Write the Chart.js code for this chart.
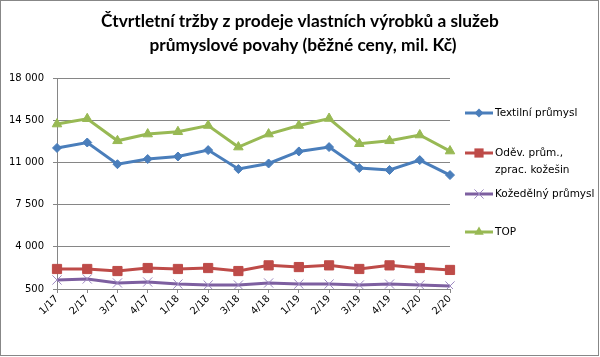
<!DOCTYPE html>
<html><head><meta charset="utf-8">
<script src="https://cdn.jsdelivr.net/npm/chart.js@4/dist/chart.umd.min.js"></script>
<style>
html,body{margin:0;padding:0;background:#fff;}
#wrap{position:relative;width:600px;height:357px;}
#frame{position:absolute;left:0;top:0;width:597px;height:354px;border:1px solid #878787;pointer-events:none;}
canvas{position:absolute;left:0;top:0;}
</style></head><body>
<div id="wrap"><canvas id="c" width="600" height="357"></canvas><div id="frame"></div></div>
<script>
const titleLines = ["Čtvrtletní tržby z prodeje vlastních výrobků a služeb", "průmyslové povahy (běžné ceny, mil. Kč)"];
const categories = ["1/17","2/17","3/17","4/17","1/18","2/18","3/18","4/18","1/19","2/19","3/19","4/19","1/20","2/20"];
const textil = [12200,12650,10850,11280,11490,12020,10450,10910,11910,12270,10530,10370,11190,9950];
const odev   = [2160,2160,1990,2240,2160,2240,1990,2460,2320,2460,2160,2460,2240,2080];
const koze   = [1250,1330,1000,1080,910,830,830,1000,910,910,830,910,830,750];
const top_   = [14180,14620,12790,13350,13540,14060,12270,13350,14060,14640,12550,12790,13270,11940];
const legendLabels = [["Textilní průmysl"],["Oděv. prům.,","zprac. kožešin"],["Kožedělný průmysl"],["TOP"]];
const yTicks = [500,4000,7500,11000,14500,18000];

const colors = ['#4A7EBB','#BE4B48','#7D5FA0','#98B954'];
const styles = ['rectRot','rect','crossRot','triangle'];
const radii = [4.5,6.5,6.5,5.5];

function fmt(v){return String(v).replace(/\B(?=(\d{3})+(?!\d))/g,' ');}

function marker(ctx, style, x, y, r, color){
  ctx.save();
  ctx.fillStyle=color; ctx.strokeStyle=color; ctx.lineWidth=1;
  ctx.beginPath();
  if(style==='rectRot'){ctx.moveTo(x,y-r);ctx.lineTo(x+r,y);ctx.lineTo(x,y+r);ctx.lineTo(x-r,y);ctx.closePath();ctx.fill();}
  else if(style==='rect'){const s=Math.SQRT1_2*r;ctx.rect(x-s,y-s,2*s,2*s);ctx.fill();}
  else if(style==='triangle'){ctx.moveTo(x,y-r);ctx.lineTo(x+r*0.866,y+r*0.5);ctx.lineTo(x-r*0.866,y+r*0.5);ctx.closePath();ctx.fill();}
  else if(style==='crossRot'){const s=Math.SQRT1_2*r;ctx.strokeStyle='#9C87C0';ctx.moveTo(x-s,y-s);ctx.lineTo(x+s,y+s);ctx.moveTo(x+s,y-s);ctx.lineTo(x-s,y+s);ctx.stroke();}
  ctx.restore();
}

const legendY = [113,153,194,232];
const decor = {
  id:'decor',
  afterDraw(chart){
    const ctx=chart.ctx;
    ctx.save();
    ctx.fillStyle='#000';
    ctx.textAlign='center'; ctx.textBaseline='middle';
    ctx.font='bold 17.3px Lato';
    ctx.fillText(titleLines[0],300,21);
    ctx.fillText(titleLines[1],303,45);
    ctx.font='10.5px "DejaVu Sans"';
    ctx.textAlign='left';
    legendLabels.forEach((lines,i)=>{
      const y=legendY[i];
      ctx.strokeStyle=colors[i]; ctx.lineWidth=3;
      ctx.beginPath(); ctx.moveTo(465,y); ctx.lineTo(493,y); ctx.stroke();
      marker(ctx,styles[i],479,y,radii[i],colors[i]);
      ctx.fillStyle='#000';
      lines.forEach((t,j)=>ctx.fillText(t,495,y+j*17));
    });
    ctx.restore();
  }
};

const series=[textil,odev,koze,top_];
new Chart(document.getElementById('c'),{
  type:'line',
  data:{labels:categories,datasets:series.map((d,i)=>({
    label:legendLabels[i].join(' '),data:d,borderColor:colors[i],backgroundColor:colors[i],
    borderWidth:3,pointStyle:styles[i],pointRadius:radii[i],pointBorderWidth:1,
    pointBackgroundColor:colors[i],pointBorderColor:i===2?'#9C87C0':colors[i],tension:0
  }))},
  options:{
    responsive:false,animation:false,
    layout:{padding:{top:78,right:150,left:0,bottom:0}},
    plugins:{legend:{display:false},title:{display:false},tooltip:{enabled:false}},
    scales:{
      x:{offset:false,
        grid:{display:true,drawOnChartArea:false,drawTicks:true,tickLength:4,color:'#868686'},
        border:{color:'#868686'},
        ticks:{minRotation:45,maxRotation:45,autoSkip:false,color:'#000',font:{family:'DejaVu Sans',size:10},padding:0},
        afterFit(s){s.height=68;}
      },
      y:{min:500,max:18000,
        afterBuildTicks(s){s.ticks=yTicks.map(v=>({value:v}));},
        grid:{color:'#868686',tickLength:4},
        border:{color:'#868686'},
        ticks:{callback:v=>fmt(v),color:'#000',font:{family:'DejaVu Sans',size:10},padding:9},
        afterFit(s){s.width=57;}
      }
    }
  },
  plugins:[decor]
});
</script>
</body></html>
